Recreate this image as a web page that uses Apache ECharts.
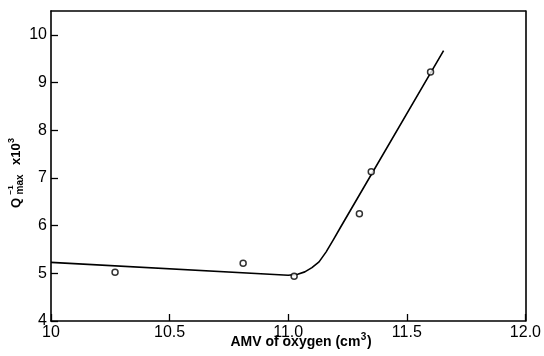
<!DOCTYPE html>
<html>
<head>
<meta charset="utf-8">
<script src="https://cdn.jsdelivr.net/npm/echarts@6/dist/echarts.min.js"></script>
<style>
  html, body { margin: 0; padding: 0; background: #fff; }
  #chart { width: 544px; height: 356px; }
</style>
</head>
<body>
<div id="chart"></div>
<script>
// Measured internal-friction peak heights against the activation molar volume of oxygen
const amvPoints = [10.27, 10.81, 11.025, 11.30, 11.35, 11.60];
const qPoints   = [5.02, 5.21, 4.94, 6.25, 7.13, 9.22];

// Drawn trend: a gently falling plateau, a rounded knee just past 11.0, then a steep rise
const trendAmv = [10.0, 11.0, 11.04, 11.07, 11.10, 11.13, 11.16, 11.19, 11.22, 11.655];
const trendQ   = [5.23, 4.96, 4.98, 5.03, 5.12, 5.24, 5.45, 5.70, 5.96, 9.67];

// Axis ticks and their printed labels
const xTicks = [10, 10.5, 11, 11.5, 12];
const xTickLabels = ['10', '10.5', '11.0', '11.5', '12.0'];
const yTicks = [4, 5, 6, 7, 8, 9, 10];
const yTickLabels = ['4', '5', '6', '7', '8', '9', '10'];

const TICK_FONT = '"Liberation Sans Narrow", "Liberation Sans", sans-serif';
const NAME_FONT = '"Liberation Sans", Arial, sans-serif';

const ctx = document.createElement('canvas').getContext('2d');
function textWidth(str, size) {
  ctx.font = 'bold ' + size + 'px ' + NAME_FONT;
  return ctx.measureText(str).width;
}

function lookup(values, labels, v) {
  for (let i = 0; i < values.length; i++) {
    if (Math.abs(values[i] - v) < 1e-6) return labels[i];
  }
  return '';
}

// One bold text run whose box is placed by its top-left corner
function piece(str, x, y, size) {
  return {
    type: 'text', x: x, y: y, silent: true,
    style: {
      text: str, fill: '#000', fontFamily: NAME_FONT, fontWeight: 'bold',
      fontSize: size, align: 'left', verticalAlign: 'top'
    }
  };
}

// Vertical axis title: Q^-1_max x 10^3, laid out along its own line then turned upright
function buildYName() {
  const parts = [
    piece('Q', 0, 0, 13),
    piece('\u22121', 13.5, -3.5, 8),
    piece('max', 13.5, 5, 10),
    piece('x10', 43, 0, 13),
    piece('3', 65, -2.5, 9)
  ];
  return { type: 'group', x: 10, y: 208, rotation: Math.PI / 2, children: parts };
}

// Horizontal axis title: AMV of oxygen (cm^3)
function buildXName() {
  const main = 'AMV of oxygen (cm';
  const wMain = textWidth(main, 14);
  const wSup = textWidth('3', 10);
  const wClose = textWidth(')', 14);
  const total = wMain + 0.5 + wSup + 0.5 + wClose;
  const x0 = 301 - total / 2;
  return {
    type: 'group', x: x0, y: 335,
    children: [
      piece(main, 0, 0, 14),
      piece('3', wMain + 0.5, -3, 10),
      piece(')', wMain + 0.5 + wSup + 0.5, 0, 14)
    ]
  };
}

const frameLine = { show: true, onZero: false, lineStyle: { color: '#000', width: 1.6 } };

const chart = echarts.init(document.getElementById('chart'), null, { renderer: 'canvas' });

chart.setOption({
  animation: false,
  backgroundColor: '#fff',
  grid: { left: 51, right: 17, top: 11, bottom: 35, containLabel: false },
  xAxis: [
    {
      type: 'value', position: 'bottom', min: 10, max: 12, interval: 0.5,
      axisLine: frameLine,
      axisTick: { show: true, inside: true, length: 7, lineStyle: { color: '#000', width: 1.3 } },
      axisLabel: {
        margin: 4, color: '#000', fontFamily: TICK_FONT, fontSize: 16,
        formatter: function (v) { return lookup(xTicks, xTickLabels, v); }
      },
      splitLine: { show: false }
    },
    {
      type: 'value', position: 'top', min: 10, max: 12,
      axisLine: frameLine, axisTick: { show: false }, axisLabel: { show: false },
      splitLine: { show: false }
    }
  ],
  yAxis: [
    {
      type: 'value', position: 'left', min: 4, max: 10.5, interval: 1,
      axisLine: frameLine,
      axisTick: {
        show: true, inside: true, length: 7, customValues: yTicks,
        lineStyle: { color: '#000', width: 1.3 }
      },
      axisLabel: {
        margin: 4, color: '#000', fontFamily: TICK_FONT, fontSize: 16,
        customValues: yTicks,
        formatter: function (v) { return lookup(yTicks, yTickLabels, v); }
      },
      splitLine: { show: false }
    },
    {
      type: 'value', position: 'right', min: 4, max: 10.5,
      axisLine: frameLine, axisTick: { show: false }, axisLabel: { show: false },
      splitLine: { show: false }
    }
  ],
  series: [
    {
      type: 'line',
      data: trendAmv.map(function (x, i) { return [x, trendQ[i]]; }),
      symbol: 'none',
      lineStyle: { color: '#000', width: 1.6, join: 'round' },
      silent: true, z: 2
    },
    {
      type: 'scatter',
      data: amvPoints.map(function (x, i) { return [x, qPoints[i]]; }),
      symbol: 'circle', symbolSize: 6,
      itemStyle: { color: '#fff', borderColor: '#000', borderWidth: 1.5 },
      silent: true, z: 3
    }
  ],
  graphic: [buildYName(), buildXName()]
});
</script>
</body>
</html>
